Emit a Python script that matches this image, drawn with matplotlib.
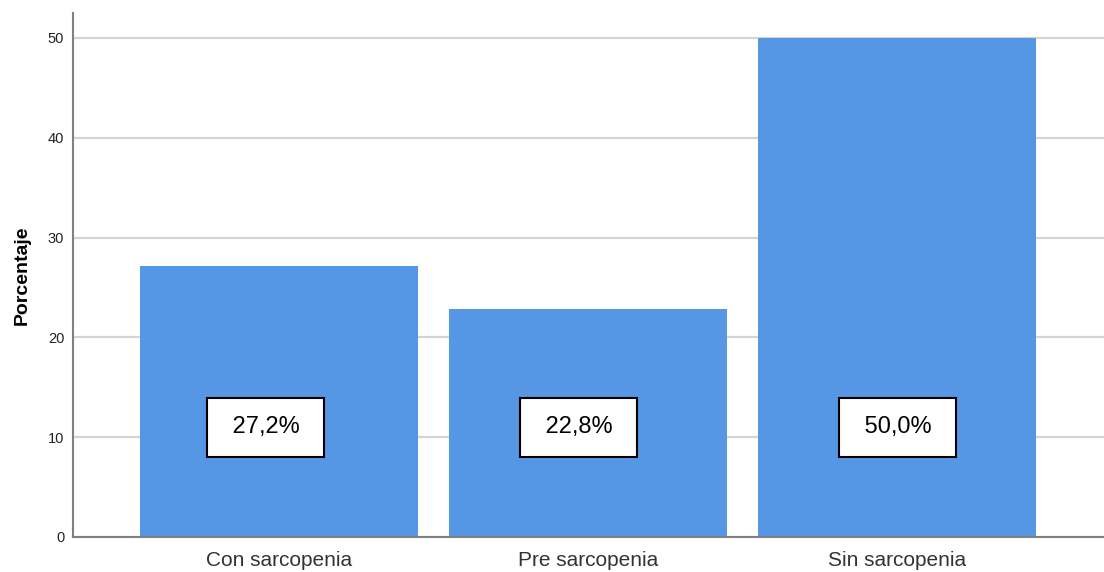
import matplotlib
matplotlib.use("Agg")
import matplotlib.pyplot as plt

categories = ["Con sarcopenia", "Pre sarcopenia", "Sin sarcopenia"]
values = [27.2, 22.8, 50.0]
labels = ["27,2%", "22,8%", "50,0%"]
yticks = [0, 10, 20, 30, 40, 50]

plt.rcParams['font.family'] = ['Liberation Sans', 'DejaVu Sans']

fig = plt.figure(figsize=(11.04, 5.72), dpi=100)
ax = fig.add_axes([72.5/1104, 1 - 537/572, (1104 - 72.5)/1104, (537 - 13)/572])

x = list(range(len(categories)))
ax.bar(x, values, width=0.9, color='#5596e5', edgecolor='none', zorder=2)
ax.set_xlim(-0.668, 2.67)
ax.set_ylim(0, 52.5)
ax.set_yticks(yticks)
ax.set_yticklabels([str(t) for t in yticks], fontsize=10.5, color='#222222')
ax.set_xticks(x)
ax.set_xticklabels(categories, fontsize=15, color='#333333')
ax.tick_params(axis='both', length=0)
ax.tick_params(axis='y', pad=6)
ax.tick_params(axis='x', pad=10)
ax.yaxis.grid(True, color='#d4d4d4', linewidth=1.6, zorder=0)
ax.set_axisbelow(True)
for s in ['top', 'right']:
    ax.spines[s].set_visible(False)
for s in ['left', 'bottom']:
    ax.spines[s].set_color('#808080')
    ax.spines[s].set_linewidth(1.5)

ax.set_ylabel("Porcentaje", fontsize=14, fontweight='bold', labelpad=12)

# small horizontal nudges of the label boxes (in points), as in the original
nudges = [-9.4, -6.5, 0.7]
for xi, lab, dx in zip(x, labels, nudges):
    ax.annotate(" " + lab + " ", xy=(xi, 11.0), xytext=(dx, 0), textcoords='offset points',
                ha='center', va='center', fontsize=17, color='black', zorder=3,
                bbox=dict(boxstyle='square,pad=0.78', facecolor='white', edgecolor='black', linewidth=1.5))

fig.savefig("out.png", dpi=100)
